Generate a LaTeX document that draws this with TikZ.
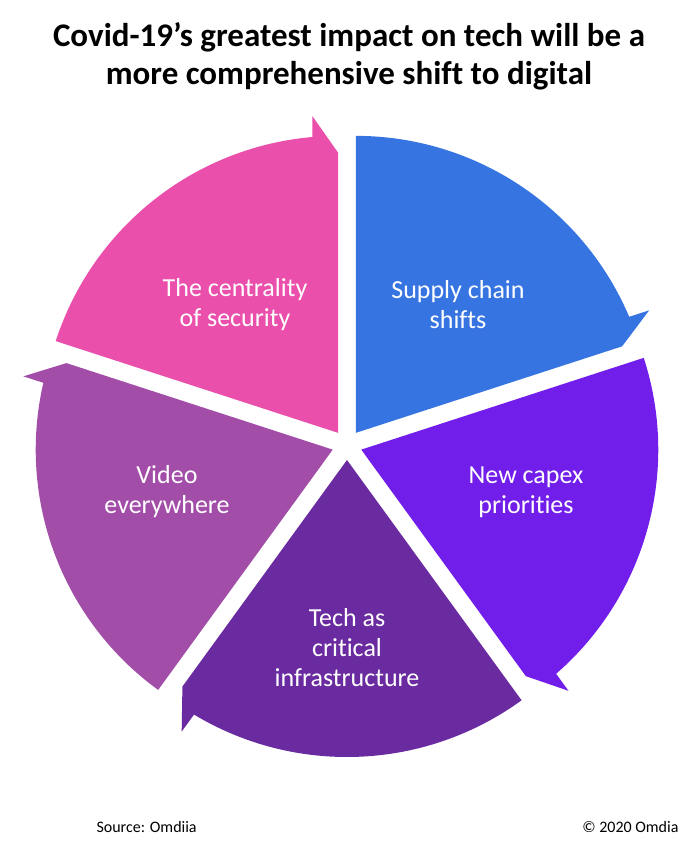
\documentclass[tikz,border=0pt]{standalone}
\usepackage{fontspec}
\setmainfont{Carlito}[Ligatures=NoCommon]
\usepackage{xcolor}
\usepackage{tikz}
\usetikzlibrary{positioning}

\definecolor{segblue}{RGB}{54,116,226}
\definecolor{segviolet}{RGB}{114,30,234}
\definecolor{segplum}{RGB}{106,42,160}
\definecolor{segmauve}{RGB}{162,78,168}
\definecolor{segpink}{RGB}{234,79,172}

\tikzstyle{label} = [text=white, align=center, font=\fontsize{26}{30}\selectfont]
\tikzstyle{title} = [align=center, font=\fontsize{33}{38}\selectfont\bfseries]
\tikzstyle{note} = [font=\fontsize{16}{18}\selectfont]

% one piece of the cycle: #1 = angle of its clockwise end, #2 = colour
\newcommand{\segmentarrow}[2]{%
  \fill[#2, shift={({#1+36}:15)}] (0,0) -- ({#1+72}:297)
    arc[start angle={#1+72}, end angle={#1+5}, radius=297pt]
    -- ++(#1:21) -- (#1:280) -- cycle;
}

\begin{document}
\begin{tikzpicture}[x=1pt, y=1pt]
    \useasboundingbox (-347,-402) rectangle (352,445);

    \segmentarrow{18}{segblue}
    \segmentarrow{-54}{segviolet}
    \segmentarrow{234}{segplum}
    \segmentarrow{162}{segmauve}
    \segmentarrow{90}{segpink}

    \node (title) [title] at (2,389) {Covid-19’s greatest impact on tech will be a\\more comprehensive shift to digital};

    \node (supply) [label] at (111,140) {Supply chain\\shifts};
    \node (security) [label] at (-112,140) {The centrality\\of security};
    \node (capex) [label] at (179,-47) {New capex\\priorities};
    \node (video) [label] at (-180,-47) {Video\\everywhere};
    \node (infra) [label] at (0,-203) {Tech as\\critical\\infrastructure};

    \node (source) [note, anchor=west] at (-254,-382) {Source: Omdiia};
    \node (copy) [note, anchor=east] at (335,-382) {© 2020 Omdia};
\end{tikzpicture}
\end{document}
